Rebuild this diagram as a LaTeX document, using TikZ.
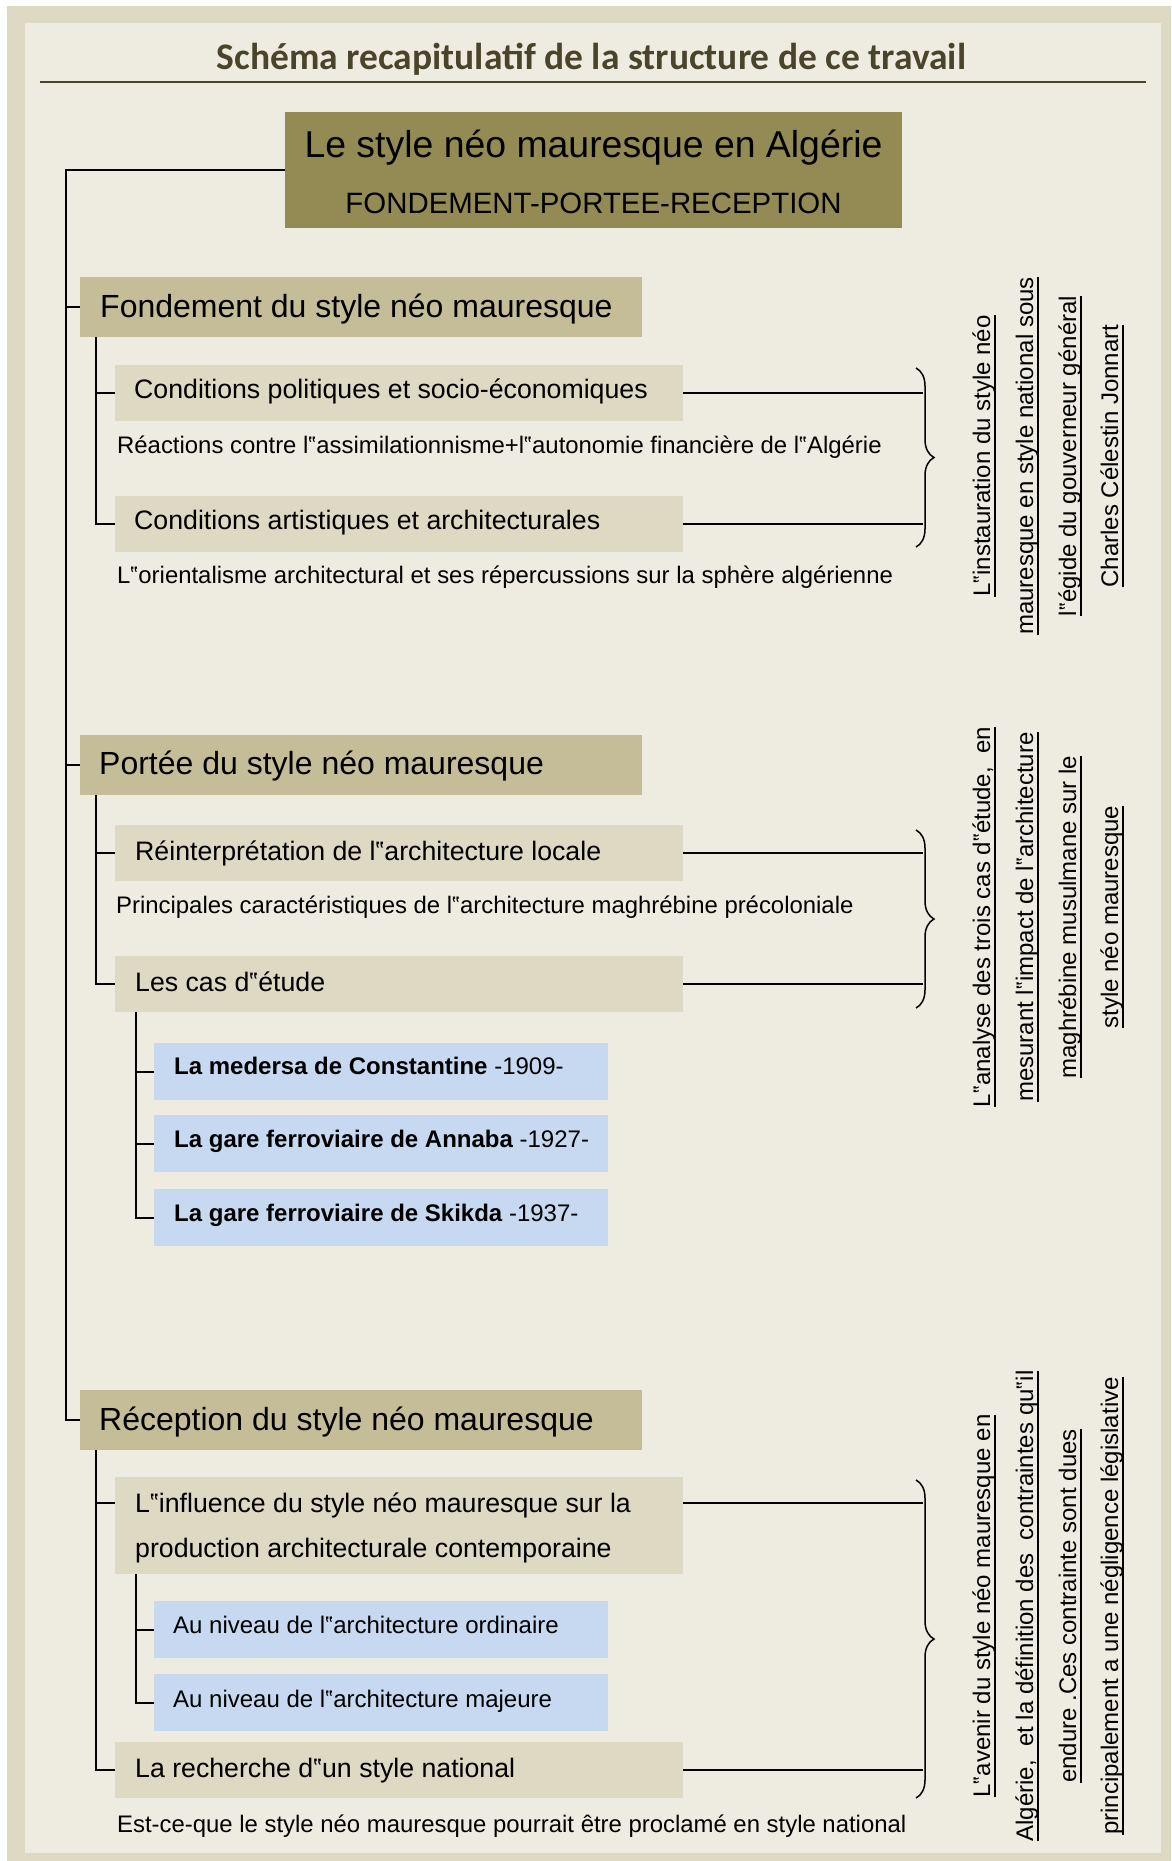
\documentclass[tikz,border=0pt]{standalone}
\usepackage{fontspec}
\setmainfont{Liberation Sans}
\newfontfamily\titlefont{Carlito}
\usetikzlibrary{decorations.pathreplacing}
\definecolor{bordercol}{HTML}{DDD9C3}
\definecolor{panelcol}{HTML}{EEECE1}
\definecolor{titlecol}{HTML}{4A452A}
\definecolor{mainfill}{HTML}{948A54}
\definecolor{secfill}{HTML}{C4BD97}
\definecolor{subfill}{HTML}{DDD9C3}
\definecolor{bluefill}{HTML}{C6D9F1}
\newsavebox\ulbox
\newcommand\myul[1]{\sbox\ulbox{#1}\rlap{\rule[-5.5pt]{\wd\ulbox}{1.5pt}}\usebox\ulbox}
\newcommand\setfs[1]{\fontsize{#1pt}{#1pt}\selectfont}
\begin{document}
\begin{tikzpicture}[x=1pt,y=-1pt,
  secbox/.style={fill=secfill, draw=none, anchor=north west, inner sep=0pt, minimum width=562pt, minimum height=60pt},
  subbox/.style={fill=subfill, draw=none, anchor=north west, inner sep=0pt, minimum width=568pt, minimum height=56pt},
  bluebox/.style={fill=bluefill, draw=none, anchor=north west, inner sep=0pt, minimum width=454pt, minimum height=57pt},
  txt/.style={anchor=base west, inner sep=0pt, text=black},
  tsec/.style={txt, font=\setfs{32}},
  tsub/.style={txt, font=\setfs{26.7}},
  tplain/.style={txt, font=\setfs{23.9}},
  tblue/.style={txt, font=\setfs{24}},
  rot/.style={anchor=base, inner sep=0pt, rotate=90, font=\setfs{24}, text=black},
  conn/.style={draw=black, line width=2pt},
  bracestyle/.style={draw=black, line width=1.5pt, decorate, decoration={brace, amplitude=18pt}}
]
\useasboundingbox (0,0) rectangle (1171,1861);
\fill[white] (0,0) rectangle (1171,1861);
\fill[bordercol] (7,6) rectangle (1171,1861);
\fill[panelcol] (25,23) rectangle (1161,1853);

% title
\node[anchor=base, inner sep=0pt, text=titlecol, font=\titlefont\bfseries\setfs{37.5}] (title) at (591.5,69) {Schéma recapitulatif de la structure de ce travail};
\draw[titlecol, line width=2pt] (40,82) -- (1146,82);

% main box
\node[fill=mainfill, anchor=north west, inner sep=0pt, minimum width=617pt, minimum height=116pt] (main) at (285,112) {};
\node[anchor=base, inner sep=0pt, font=\setfs{37.4}] (mt1) at (593.5,157) {Le style néo mauresque en Algérie};
\node[anchor=base, inner sep=0pt, font=\setfs{29.4}] (mt2) at (593.5,213) {FONDEMENT-PORTEE-RECEPTION};

% section boxes
\node[secbox] (sec1) at (80,277) {};
\node[tsec] (sec1t) at (100,317) {Fondement du style néo mauresque};
\node[secbox] (sec2) at (80,735) {};
\node[tsec] (sec2t) at (99,774) {Portée du style néo mauresque};
\node[secbox] (sec3) at (80,1390) {};
\node[tsec] (sec3t) at (99,1430) {Réception du style néo mauresque};

% section 1
\node[subbox] (c1) at (115,365) {};
\node[tsub] (c1t) at (134,398) {Conditions politiques et socio-économiques};
\node[tplain] (react) at (117,453) {Réactions contre l‟assimilationnisme+l‟autonomie financière de l‟Algérie};
\node[subbox] (c2) at (115,496) {};
\node[tsub] (c2t) at (134,529) {Conditions artistiques et architecturales};
\node[tplain] (orient) at (117,583) {L‟orientalisme architectural et ses répercussions sur la sphère algérienne};

% section 2
\node[subbox] (s2a) at (115,825) {};
\node[tsub] (s2at) at (135,860) {Réinterprétation de l‟architecture locale};
\node[tplain] (princ) at (116,913) {Principales caractéristiques de l‟architecture maghrébine précoloniale};
\node[subbox] (s2b) at (115,956) {};
\node[tsub] (s2bt) at (135,991) {Les cas d‟étude};
\node[bluebox] (bl1) at (154,1043) {};
\node[tblue] (bl1t) at (174,1074) {\bfseries La medersa de Constantine \mdseries-1909-};
\node[bluebox] (bl2) at (154,1115) {};
\node[tblue] (bl2t) at (174,1147) {\bfseries La gare ferroviaire de Annaba \mdseries-1927-};
\node[bluebox] (bl3) at (154,1189) {};
\node[tblue] (bl3t) at (174,1221) {\bfseries La gare ferroviaire de Skikda \mdseries-1937-};

% section 3
\node[subbox, minimum height=97pt] (s3a) at (115,1477) {};
\node[tsub] (s3at1) at (135,1512) {L‟influence du style néo mauresque sur la};
\node[tsub] (s3at2) at (135,1557) {production architecturale contemporaine};
\node[bluebox] (bl4) at (154,1601) {};
\node[tblue] (bl4t) at (173,1633) {Au niveau de l‟architecture ordinaire};
\node[bluebox] (bl5) at (154,1674) {};
\node[tblue] (bl5t) at (173,1707) {Au niveau de l‟architecture majeure};
\node[subbox] (s3b) at (115,1742) {};
\node[tsub] (s3bt) at (135,1777) {La recherche d‟un style national};
\node[tplain] (estce) at (117,1832) {Est-ce-que le style néo mauresque pourrait être proclamé en style national};

% tree connectors
\coordinate (mx) at (66,0);
\draw[conn] (main.west) -| (mx |- sec3.west) -- (sec3.west);
\draw[conn] (mx |- sec1.west) -- (sec1.west);
\draw[conn] (mx |- sec2.west) -- (sec2.west);

\coordinate (v1) at ([xshift=16pt]sec1.south west);
\draw[conn] (v1) |- (c2.west);
\draw[conn] (v1 |- c1.west) -- (c1.west);

\coordinate (v2) at ([xshift=16pt]sec2.south west);
\draw[conn] (v2) |- (s2b.west);
\draw[conn] (v2 |- s2a.west) -- (s2a.west);
\coordinate (v2c) at ([xshift=21pt]s2b.south west);
\draw[conn] (v2c) |- (bl3.west);
\draw[conn] (v2c |- bl1.west) -- (bl1.west);
\draw[conn] (v2c |- bl2.west) -- (bl2.west);

\coordinate (v3) at ([xshift=16pt]sec3.south west);
\draw[conn] (v3) |- (s3b.west);
\coordinate (inf1) at ([yshift=23pt]s3a.west);
\draw[conn] (v3 |- inf1) -- (inf1);
\coordinate (v3c) at ([xshift=21pt]s3a.south west);
\draw[conn] (v3c) |- (bl5.west);
\draw[conn] (v3c |- bl4.west) -- (bl4.west);

% right connectors and braces
\coordinate (bx) at (923,0);
\draw[conn] (c1.east) -- (c1.east -| bx);
\draw[conn] (c2.east) -- (c2.east -| bx);
\draw[conn] (s2a.east) -- (s2a.east -| bx);
\draw[conn] (s2b.east) -- (s2b.east -| bx);
\coordinate (inf2) at ([yshift=23pt]s3a.east);
\draw[conn] (inf2) -- (inf2 -| bx);
\draw[conn] (s3b.east) -- (s3b.east -| bx);

\coordinate (b1t) at (916,368); \coordinate (b1b) at (916,547);
\coordinate (b2t) at (916,830); \coordinate (b2b) at (916,1008);
\coordinate (b3t) at (916,1480); \coordinate (b3b) at (916,1798);
\draw[bracestyle] (b1t) -- (b1b);
\draw[bracestyle] (b2t) -- (b2b);
\draw[bracestyle] (b3t) -- (b3b);

% rotated texts
\node[rot] (r1a) at (990,456) {\myul{L‟instauration du style néo}};
\node[rot] (r1b) at (1033,456) {\myul{mauresque en style national sous}};
\node[rot] (r1c) at (1076,456) {\myul{l‟égide du gouverneur général}};
\node[rot] (r1d) at (1118,456) {\myul{Charles Célestin Jonnart}};

\node[rot] (r2a) at (990,917) {\myul{L‟analyse des trois cas d‟étude, \ en}};
\node[rot] (r2b) at (1033,917) {\myul{mesurant l‟impact de l‟architecture}};
\node[rot] (r2c) at (1076,917) {\myul{maghrébine musulmane sur le}};
\node[rot] (r2d) at (1118,917) {\myul{style néo mauresque}};

\node[rot] (r3a) at (990,1606) {\myul{L‟avenir du style néo mauresque en}};
\node[rot] (r3b) at (1033,1606) {\myul{Algérie, \ et la définition des \ contraintes qu‟il}};
\node[rot] (r3c) at (1076,1606) {\myul{endure .Ces contrainte sont dues}};
\node[rot] (r3d) at (1118,1606) {\myul{principalement a une négligence législative}};
\end{tikzpicture}
\end{document}
